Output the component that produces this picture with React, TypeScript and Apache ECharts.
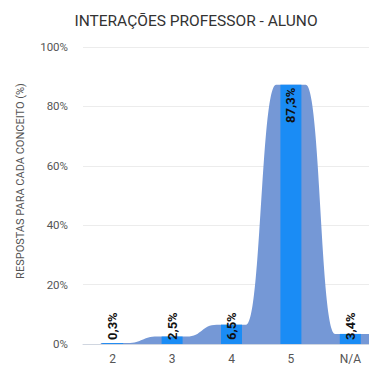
import React, { useEffect, useRef } from "react";
import * as echarts from "echarts";

const categories = ["2", "3", "4", "5", "N/A"];
const values = [0.3, 2.5, 6.5, 87.3, 3.4];
const yTicks = [0, 20, 40, 60, 80, 100];
const titleText = "INTERAÇÕES PROFESSOR - ALUNO";
const yName = "RESPOSTAS PARA CADA CONCEITO (%)";

export default function App() {
  const ref = useRef<HTMLDivElement>(null);
  useEffect(() => {
    if (!ref.current) return;
    const chart = echarts.init(ref.current, undefined, { renderer: "svg" });
    const fmt = (v: number) => v.toFixed(1).replace(".", ",") + "%";
    const option: any = {
      animation: false,
      grid: { left: 83, right: 10, top: 47, bottom: 23 },
      graphic: [
        {
          type: "text",
          x: 196,
          y: 21,
          style: {
            text: titleText,
            font: "15.5px Roboto",
            fill: "#333",
            textAlign: "center",
            textVerticalAlign: "middle",
          },
        },
        {
          type: "text",
          x: 20,
          y: 181,
          rotation: Math.PI / 2,
          style: {
            text: yName,
            font: "11px Roboto",
            fill: "#555",
            textAlign: "center",
            textVerticalAlign: "middle",
          },
        },
      ],
      xAxis: {
        type: "category",
        data: categories,
        axisTick: { show: false },
        axisLine: { lineStyle: { color: "#d0d6e0" } },
        axisLabel: { color: "#555", fontSize: 12, margin: 9, fontFamily: "Roboto" },
      },
      yAxis: {
        type: "value",
        min: yTicks[0],
        max: yTicks[yTicks.length - 1],
        interval: 20,
        axisLabel: {
          formatter: "{value}%",
          color: "#555",
          fontSize: 11.5,
          margin: 15,
          fontFamily: "Roboto",
        },
        splitLine: { lineStyle: { color: "#ececec" } },
      },
      series: [
        {
          type: "custom",
          z: 1,
          data: values.map((v, i) => [i, v]),
          encode: { x: 0, y: 1 },
          renderItem: (params: any, api: any) => {
            if (params.dataIndex !== 0) return null;
            const band = api.size([1, 0])[0];
            const h = band * 0.25;
            const pts = values.map((v, i) => api.coord([i, v]));
            const baseY = api.coord([0, 0])[1];
            const startX = pts[0][0] - band * 0.2;
            const endX = pts[pts.length - 1][0] + band * 0.5;
            let d = `M${startX} ${baseY} L${startX} ${pts[0][1]}`;
            for (let i = 1; i < pts.length; i++) {
              const m = (pts[i - 1][0] + pts[i][0]) / 2;
              const ya = pts[i - 1][1];
              const yb = pts[i][1];
              d += ` L${m - h} ${ya} C${m} ${ya} ${m} ${yb} ${m + h} ${yb}`;
            }
            d += ` L${endX} ${pts[pts.length - 1][1]} L${endX} ${baseY} Z`;
            return {
              type: "path",
              shape: { pathData: d },
              style: { fill: "#7598d6" },
            };
          },
        },
        {
          type: "bar",
          z: 2,
          barWidth: 21,
          itemStyle: { color: "#1a8cf5" },
          data: values.map((v) =>
            v > 50
              ? {
                  value: v,
                  label: { position: "insideTop", align: "right", distance: 3 },
                }
              : v
          ),
          label: {
            show: true,
            rotate: 90,
            position: "insideBottom",
            align: "left",
            verticalAlign: "middle",
            distance: 4,
            color: "#111",
            fontWeight: "bold",
            fontSize: 13,
            fontFamily: "Roboto",
            formatter: (p: any) => fmt(p.value),
          },
        },
      ],
    };
    chart.setOption(option);
    return () => chart.dispose();
  }, []);
  return (
    <div
      style={{
        position: "fixed",
        left: 0,
        top: 0,
        width: 369,
        height: 367,
        overflow: "hidden",
        background: "#fff",
      }}
    >
      <div ref={ref} style={{ width: 390, height: 367 }} />
    </div>
  );
}
